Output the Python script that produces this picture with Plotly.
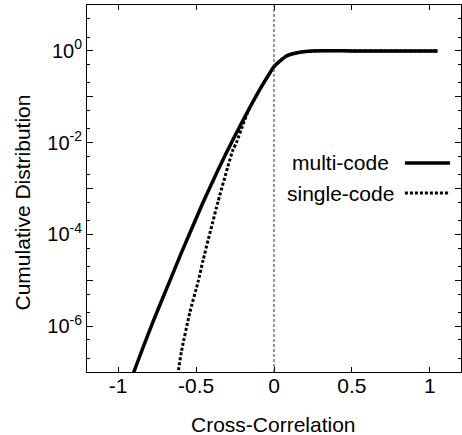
import plotly.graph_objects as go

# ---- data ----
multi_x = [-0.905, -0.872, -0.776, -0.679, -0.594, -0.455, -0.360, -0.263, -0.156,
           -0.070, 0.004, 0.080, 0.165, 0.250, 0.500, 0.800, 1.050]
multi_y = [8.9e-8, 1.78e-7, 1.26e-6, 7.9e-6, 4.0e-5, 5.0e-4, 2.5e-3, 1.17e-2, 5.75e-2,
           0.19, 0.47, 0.776, 0.933, 1.0, 1.0, 1.0, 1.0]

single_x = [-0.618, -0.594, -0.540, -0.487, -0.455, -0.359, -0.263, -0.241, -0.199,
            -0.156, -0.070, 0.004, 0.080, 0.165, 0.250, 0.500, 0.800, 1.050]
single_y = [8.5e-8, 2.8e-7, 2.0e-6, 9.3e-6, 2.75e-5, 5.2e-4, 7.1e-3, 1.0e-2, 2.5e-2,
            5.75e-2, 0.19, 0.47, 0.776, 0.933, 1.0, 1.0, 1.0, 1.0]

series_names = ["multi-code", "single-code"]

x_tickvals = [-1, -0.5, 0, 0.5, 1]
x_ticktext = ["-1", "-0.5", "0", "0.5", "1"]

y_tickvals = [1e-7, 1e-6, 1e-5, 1e-4, 1e-3, 1e-2, 1e-1, 1e0, 1e1]
y_ticktext = ["", "10<sup>-6</sup>", "", "10<sup>-4</sup>", "", "10<sup>-2</sup>", "",
              "10<sup>0</sup>", ""]
y_minor = [m * 10.0 ** e for e in range(-7, 1) for m in (2, 5)]

x_title = "Cross-Correlation"
y_title = "Cumulative Distribution"

FONT = "Liberation Sans, Arial, Helvetica, sans-serif"

fig = go.Figure()
fig.add_trace(go.Scatter(x=multi_x, y=multi_y, mode="lines", name=series_names[0],
                         line=dict(color="black", width=3.5, shape="spline", smoothing=0.5)))
fig.add_trace(go.Scatter(x=single_x, y=single_y, mode="lines", name=series_names[1],
                         line=dict(color="black", width=3, dash="3px,2px",
                                   shape="spline", smoothing=0.5)))

# vertical dashed reference line at x = 0
fig.add_shape(type="line", xref="x", yref="paper", x0=0, x1=0, y0=0, y1=1,
              line=dict(color="#333", width=1, dash="3px,2px"))

# legend (text then sample line, as in the reference)
leg_y = [0.5695, 0.4877]
leg_dash = ["solid", "3px,2px"]
leg_w = [3.5, 3]
for name, yy, d, w in zip(series_names, leg_y, leg_dash, leg_w):
    fig.add_annotation(xref="paper", yref="paper", x=0.6765, y=yy, text=name,
                       showarrow=False, xanchor="center", yanchor="middle",
                       font=dict(size=21, color="black", family=FONT))
    fig.add_shape(type="line", xref="paper", yref="paper", x0=0.850, x1=0.9706,
                  y0=yy, y1=yy, line=dict(color="black", width=w, dash=d))

# axis titles
fig.add_annotation(xref="paper", yref="paper", x=0.4987, y=-0.1417, text=x_title,
                   showarrow=False, xanchor="center", yanchor="middle",
                   font=dict(size=21, color="black", family=FONT))
fig.add_annotation(xref="paper", yref="paper", x=-0.1738, y=0.4619, text=y_title,
                   showarrow=False, xanchor="center", yanchor="middle", textangle=-90,
                   font=dict(size=21, color="black", family=FONT))

fig.update_layout(
    width=462, height=435,
    margin=dict(l=87, r=1, t=5, b=63, autoexpand=False),
    paper_bgcolor="white", plot_bgcolor="white",
    showlegend=False,
    font=dict(family=FONT, size=21, color="black"),
)
fig.update_xaxes(
    range=[-1.2, 1.2], tickvals=x_tickvals, ticktext=x_ticktext,
    ticks="inside", ticklen=5, tickcolor="black",
    showline=True, linecolor="black", linewidth=1, mirror="ticks",
    showgrid=False, zeroline=False, automargin=False,
    tickfont=dict(size=21), ticklabelstandoff=-5,
)
fig.update_yaxes(
    type="log", range=[-7, 1], tickvals=y_tickvals, ticktext=y_ticktext,
    ticks="inside", ticklen=6, tickcolor="black",
    minor=dict(tickvals=y_minor, ticks="inside", ticklen=3, tickcolor="black"),
    showline=True, linecolor="black", linewidth=1, mirror="ticks",
    showgrid=False, zeroline=False, automargin=False,
    tickfont=dict(size=20),
)

fig.write_html("out.html", config={"displayModeBar": False},
               post_script="document.body.style.margin='0px';")
